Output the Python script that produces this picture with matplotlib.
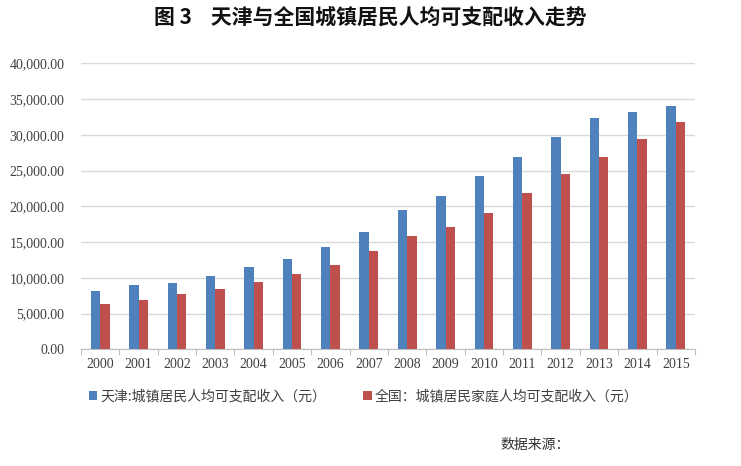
import matplotlib
matplotlib.use("Agg")
import matplotlib.pyplot as plt
import numpy as np
from matplotlib.ticker import FuncFormatter, FixedLocator

plt.rcParams['font.family'] = ['Noto Sans CJK SC', 'DejaVu Sans']

years = ['2000', '2001', '2002', '2003', '2004', '2005', '2006', '2007',
         '2008', '2009', '2010', '2011', '2012', '2013', '2014', '2015']
tianjin = [8140, 8959, 9338, 10313, 11467, 12639, 14283, 16357,
           19423, 21402, 24293, 26921, 29626, 32294, 33185, 34074]
national = [6280, 6860, 7703, 8472, 9422, 10493, 11759, 13786,
            15781, 17175, 19109, 21810, 24565, 26955, 29381, 31790]

label_tj = '天津:城镇居民人均可支配收入（元）'
label_cn = '全国：城镇居民家庭人均可支配收入（元）'
title = '图 3    天津与全国城镇居民人均可支配收入走势'
source = '数据来源：'

num_font = 'Liberation Serif'

fig = plt.figure(figsize=(7.41, 4.66), dpi=100)
ax = fig.add_axes([0.1093, 0.2504, 0.8286, 0.6137])

x = np.arange(len(years))
w = 0.245
b1 = ax.bar(x - w / 2, tianjin, width=w, color='#4F81BD', label=label_tj, zorder=3)
b2 = ax.bar(x + w / 2, national, width=w, color='#C0504D', label=label_cn, zorder=3)

ax.set_xlim(-0.5, len(years) - 0.5)
ax.set_ylim(0, 40000)
ax.set_yticks(np.arange(0, 40001, 5000))
ax.yaxis.set_major_formatter(FuncFormatter(lambda v, p: '{:,.2f}'.format(v)))
ax.grid(axis='y', color='#D9D9D9', linewidth=1, zorder=0)

ax.set_xticks(x)
ax.set_xticklabels(years)
ax.xaxis.set_minor_locator(FixedLocator(np.arange(-0.5, len(years), 1)))
ax.tick_params(axis='x', which='major', length=0, pad=6)
ax.tick_params(axis='x', which='minor', length=4, color='#BFBFBF', width=0.8)
ax.tick_params(axis='y', length=0, pad=12)
for lab in ax.get_xticklabels() + ax.get_yticklabels():
    lab.set_fontfamily(num_font)
    lab.set_fontsize(10)
    lab.set_color('#404040')

for s in ['top', 'right', 'left']:
    ax.spines[s].set_visible(False)
ax.spines['bottom'].set_color('#BFBFBF')

fig.text(0.5, 0.962, title, ha='center', va='center', fontsize=15,
         fontweight='bold', color='#111111')

fig.legend(handles=[b1, b2], loc='center left', bbox_to_anchor=(0.1032, 0.150),
           ncol=2, frameon=False, fontsize=10, handlelength=0.6,
           handleheight=0.6, handletextpad=0.2, columnspacing=2.7,
           labelcolor='#404040')

fig.text(0.675, 0.045, source, ha='left', va='center', fontsize=10,
         style='italic', color='#333333')

fig.savefig('out.png', dpi=100)
